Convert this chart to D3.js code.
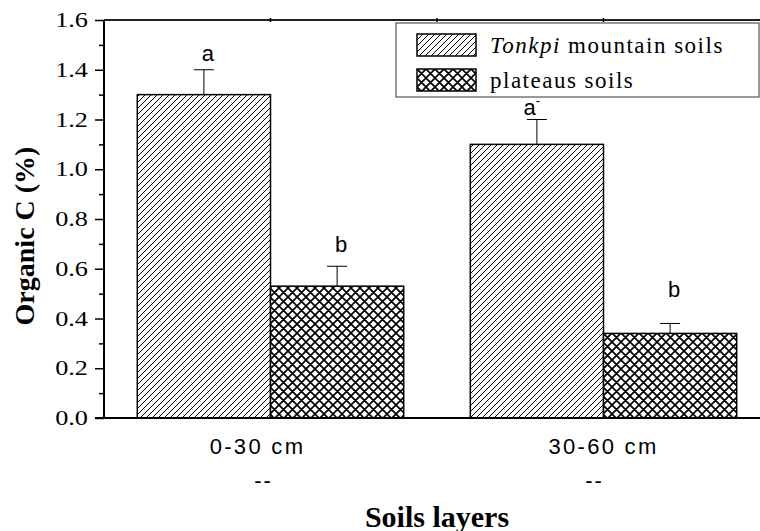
<!DOCTYPE html>
<html lang="en">
<head>
    <meta charset="UTF-8">
    <title>Organic C</title>
    <script src="https://d3js.org/d3.v7.min.js"></script>
    <style>
        body{
            margin: 0;
            background: #fff;
        }
        .yaxis path{ display:none; }
        .yaxis line{ stroke:#000; stroke-width:1.5px; }
    </style>
</head>
<body>
    <script>
        // data
        var layers = ["0-30 cm", "30-60 cm"];
        var soilTypes = ["Tonkpi", "plateaus"];
        var tonkpiValues = [1.3, 1.1];
        var plateauValues = [0.53, 0.34];
        var tonkpiErrors = [0.1, 0.1];
        var plateauErrors = [0.08, 0.04];
        var tonkpiLetters = ["a", "a"];
        var plateauLetters = ["b", "b"];
        // height (in % units) where the letters sit
        var tonkpiLetterAt = [1.435, 1.218];
        var plateauLetterAt = [0.667, 0.486];
        var yTicks = [0, 0.2, 0.4, 0.6, 0.8, 1.0, 1.2, 1.4, 1.6];
        var yMinorTicks = [0.1, 0.3, 0.5, 0.7, 0.9, 1.1, 1.3, 1.5];

        var w = 760;
        var h = 531;
        var padLeft = 104, padTop = 20, padBottom = 418, padRight = 770;
        var serif = "Liberation Serif";
        var sans = "Liberation Sans";

        var rows = [];
        layers.forEach(function(l, i){
            rows.push({layer:l, type:"Tonkpi", value:tonkpiValues[i], err:tonkpiErrors[i], letter:tonkpiLetters[i], at:tonkpiLetterAt[i]});
            rows.push({layer:l, type:"plateaus", value:plateauValues[i], err:plateauErrors[i], letter:plateauLetters[i], at:plateauLetterAt[i]});
        });

        var svg = d3.select("body")
            .append("svg")
            .attr("width", w)
            .attr("height", h);

        // hatch patterns
        var defs = svg.append("defs");
        var p1 = defs.append("pattern")
            .attr("id", "hatch")
            .attr("patternUnits", "userSpaceOnUse")
            .attr("width", 6).attr("height", 6);
        p1.append("rect").attr("width", 6).attr("height", 6).attr("fill", "#fff");
        p1.append("path")
            .attr("d", "M0,6 L6,0 M-1,1 L1,-1 M5,7 L7,5")
            .attr("stroke", "#000").attr("stroke-width", 1);

        var cs = 9;
        var p2 = defs.append("pattern")
            .attr("id", "cross")
            .attr("patternUnits", "userSpaceOnUse")
            .attr("width", cs).attr("height", cs);
        p2.append("rect").attr("width", cs).attr("height", cs).attr("fill", "#fff");
        p2.append("path")
            .attr("d", `M0,${cs} L${cs},0 M-1,1 L1,-1 M${cs-1},${cs+1} L${cs+1},${cs-1} M0,0 L${cs},${cs} M-1,${cs-1} L1,${cs+1} M${cs-1},-1 L${cs+1},1`)
            .attr("stroke", "#000").attr("stroke-width", 1.7);

        var fillOf = {"Tonkpi": "url(#hatch)", "plateaus": "url(#cross)"};

        // scales
        var xScale = d3.scaleBand()
            .domain(layers)
            .range([padLeft, padRight])
            .paddingInner(0.2)
            .paddingOuter(0.1);

        var sScale = d3.scaleBand()
            .domain(soilTypes)
            .range([0, xScale.bandwidth()]);

        var yScale = d3.scaleLinear()
            .domain([0, 1.6])
            .range([padBottom, padTop]);

        // y axis tick marks (major + minor)
        svg.append("g")
            .attr("class", "yaxis")
            .attr("transform", `translate(${padLeft},0)`)
            .call(d3.axisLeft(yScale).tickValues(yTicks).tickSize(9).tickFormat(""));

        svg.append("g")
            .attr("class", "yaxis")
            .attr("transform", `translate(${padLeft},0)`)
            .call(d3.axisLeft(yScale).tickValues(yMinorTicks).tickSize(5).tickFormat(""));

        // tick labels: the figure's digits are a bit wide, stretch them sideways
        var fmt = d3.format(".1f");
        svg.selectAll("text.ylab")
            .data(yTicks)
            .enter()
            .append("text")
            .attr("class", "ylab")
            .attr("font-family", serif)
            .attr("font-size", 21)
            .attr("fill", "#000")
            .attr("text-anchor", "end")
            .attr("dy", "0.34em")
            .attr("transform", d => `translate(88,${yScale(d)}) scale(1.25,1)`)
            .text(d => fmt(d));

        // bars
        svg.selectAll("rect.bar")
            .data(rows)
            .enter()
            .append("rect")
            .attr("class", "bar")
            .attr("x", d => xScale(d.layer) + sScale(d.type))
            .attr("y", d => yScale(d.value))
            .attr("width", sScale.bandwidth())
            .attr("height", d => yScale(0) - yScale(d.value))
            .attr("fill", d => fillOf[d.type])
            .attr("stroke", "#000")
            .attr("stroke-width", 1.5);

        // error bars (upper only)
        var cx = d => xScale(d.layer) + sScale(d.type) + sScale.bandwidth() / 2;
        svg.selectAll("line.err")
            .data(rows)
            .enter()
            .append("line")
            .attr("class", "err")
            .attr("x1", cx).attr("x2", cx)
            .attr("y1", d => yScale(d.value))
            .attr("y2", d => yScale(d.value + d.err))
            .attr("stroke", "#000").attr("stroke-width", 1);

        svg.selectAll("line.cap")
            .data(rows)
            .enter()
            .append("line")
            .attr("class", "cap")
            .attr("x1", d => cx(d) - 10).attr("x2", d => cx(d) + 10)
            .attr("y1", d => yScale(d.value + d.err))
            .attr("y2", d => yScale(d.value + d.err))
            .attr("stroke", "#000").attr("stroke-width", 1);

        // significance letters
        var sig = svg.selectAll("text.sig")
            .data(rows)
            .enter()
            .append("text")
            .attr("class", "sig")
            .attr("font-family", sans)
            .attr("font-size", 22)
            .attr("x", (d, i) => cx(d) + (i == 2 ? -5 : 4))
            .attr("y", d => yScale(d.at))
            .attr("text-anchor", "middle")
            .text(d => d.letter);
        sig.filter((d, i) => i == 2)
            .append("tspan")
            .attr("dy", -10)
            .attr("font-size", 13)
            .text("-");

        // frame lines
        svg.append("line")
            .attr("x1", padLeft - 9).attr("x2", w)
            .attr("y1", padBottom).attr("y2", padBottom)
            .attr("stroke", "#000").attr("stroke-width", 2);
        svg.append("line")
            .attr("x1", padLeft).attr("x2", w)
            .attr("y1", padTop).attr("y2", padTop)
            .attr("stroke", "#222").attr("stroke-width", 2);
        svg.append("line")
            .attr("x1", padLeft).attr("x2", padLeft)
            .attr("y1", padTop).attr("y2", padBottom)
            .attr("stroke", "#000").attr("stroke-width", 2);

        // small ticks on top edge
        var topTicks = [xScale(layers[0]) + xScale.bandwidth() / 2,
                        (xScale(layers[0]) + xScale.bandwidth() + xScale(layers[1])) / 2,
                        xScale(layers[1]) + xScale.bandwidth() / 2];
        svg.selectAll("line.tt")
            .data(topTicks)
            .enter()
            .append("line")
            .attr("x1", d => d).attr("x2", d => d)
            .attr("y1", padTop - 2).attr("y2", padTop + 2)
            .attr("stroke", "#000").attr("stroke-width", 1.5);

        // category labels
        var labelShift = [-13, 0];
        var dashShift = [-7, -9];
        svg.selectAll("text.xlab")
            .data(layers)
            .enter()
            .append("text")
            .attr("class", "xlab")
            .attr("font-family", sans)
            .attr("font-size", 22)
            .attr("letter-spacing", 2.3)
            .attr("x", (d, i) => xScale(d) + xScale.bandwidth() / 2 + labelShift[i])
            .attr("y", 454)
            .attr("text-anchor", "middle")
            .text(d => d);

        svg.selectAll("text.dash")
            .data(layers)
            .enter()
            .append("text")
            .attr("class", "dash")
            .attr("font-family", sans)
            .attr("font-size", 22)
            .attr("letter-spacing", 2)
            .attr("x", (d, i) => xScale(d) + xScale.bandwidth() / 2 + dashShift[i])
            .attr("y", 488)
            .attr("text-anchor", "middle")
            .text("--");

        // axis titles
        svg.append("text")
            .attr("font-family", serif)
            .attr("font-size", 30)
            .attr("font-weight", "bold")
            .attr("x", 437)
            .attr("y", 527)
            .attr("text-anchor", "middle")
            .text("Soils layers");

        svg.append("text")
            .attr("font-family", serif)
            .attr("font-size", 28)
            .attr("font-weight", "bold")
            .attr("transform", "translate(34,236) rotate(-90)")
            .attr("text-anchor", "middle")
            .text("Organic C (%)");

        // legend
        var lg = svg.append("g").attr("class", "legend");
        lg.append("rect")
            .attr("x", 396).attr("y", 23)
            .attr("width", 363).attr("height", 74)
            .attr("fill", "#fff")
            .attr("stroke", "#333").attr("stroke-width", 1);

        var items = lg.selectAll("g.item")
            .data(soilTypes)
            .enter()
            .append("g")
            .attr("transform", (d, i) => `translate(417,${34 + i * 35})`);

        items.append("rect")
            .attr("width", 59).attr("height", 22)
            .attr("fill", d => fillOf[d])
            .attr("stroke", "#000").attr("stroke-width", 1.5);

        var lt = items.append("text")
            .attr("font-family", serif)
            .attr("font-size", 23)
            .attr("letter-spacing", 1.5)
            .attr("x", 73)
            .attr("y", 19);
        lt.filter(d => d == "Tonkpi").append("tspan").attr("font-style", "italic").text("Tonkpi");
        lt.filter(d => d == "Tonkpi").append("tspan").text(" mountain soils");
        lt.filter(d => d == "plateaus").text("plateaus soils");
    </script>
</body>
</html>
